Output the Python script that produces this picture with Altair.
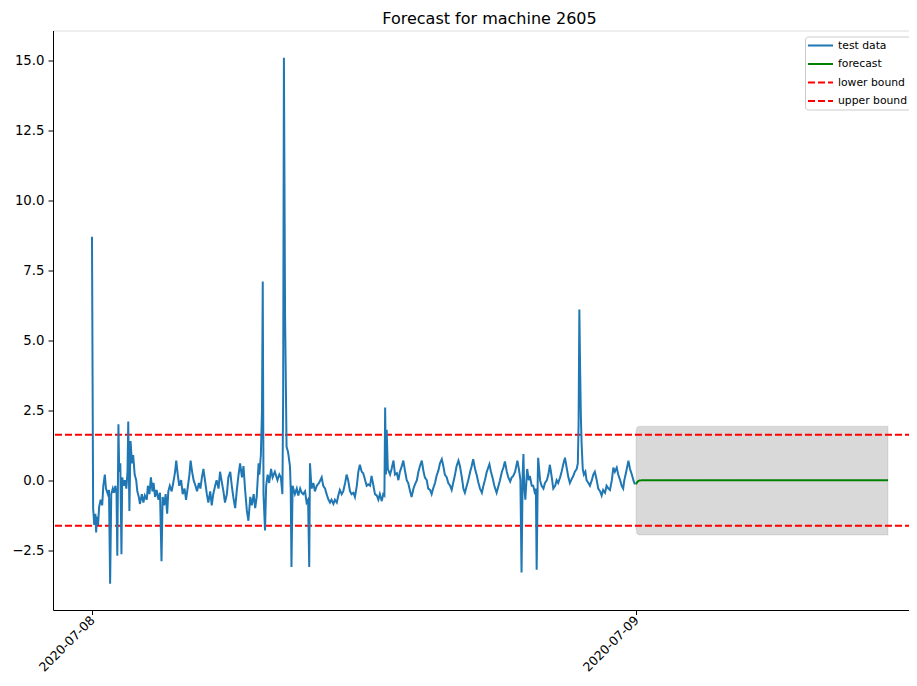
import altair as alt
import pandas as pd

TITLE = "Forecast for machine 2605"
START = "2020-07-08 00:00:00"

# test data: minutes after 2020-07-08 00:00, value
TEST_MINUTES = [
    0, 3, 6, 9, 11, 13, 16, 19, 23, 27, 30, 34, 37, 42, 45, 48, 51, 55, 58, 62,
    65, 67, 70, 72, 75, 78, 80, 84, 87, 91, 94, 96, 99, 102, 106, 109, 113, 117, 120, 124,
    127, 132, 136, 140, 145, 148, 152, 156, 160, 163, 167, 171, 176, 180, 184, 187, 191, 195, 199, 202,
    206, 211, 215, 220, 223, 227, 231, 236, 240, 245, 249, 253, 258, 261, 265, 269, 274, 278, 283, 287,
    291, 295, 299, 304, 308, 313, 317, 321, 326, 330, 335, 339, 344, 348, 352, 357, 361, 366, 370, 374,
    379, 383, 388, 392, 397, 401, 405, 410, 414, 419, 423, 428, 432, 436, 441, 443, 447, 450, 452, 454,
    458, 461, 465, 469, 474, 478, 484, 491, 496, 500, 504, 506, 508, 511, 515, 519, 524, 526, 528, 531,
    537, 542, 546, 551, 555, 559, 564, 568, 572, 575, 577, 581, 586, 590, 595, 601, 608, 612, 617, 621,
    626, 630, 634, 639, 643, 648, 652, 656, 661, 665, 670, 674, 678, 683, 687, 692, 696, 701, 705, 709,
    714, 718, 723, 727, 731, 736, 740, 745, 749, 754, 758, 762, 767, 771, 774, 776, 778, 780, 783, 789,
    793, 798, 802, 807, 811, 815, 820, 824, 829, 833, 837, 842, 846, 851, 855, 860, 864, 868, 873, 877,
    881, 886, 890, 895, 899, 903, 908, 912, 917, 921, 926, 930, 934, 939, 943, 948, 952, 956, 961, 965,
    970, 974, 979, 983, 987, 992, 996, 1001, 1005, 1009, 1014, 1018, 1023, 1027, 1032, 1036, 1040, 1045, 1052, 1056,
    1061, 1065, 1071, 1076, 1080, 1085, 1089, 1093, 1098, 1102, 1107, 1111, 1115, 1120, 1126, 1130, 1134, 1137, 1140, 1142,
    1144, 1147, 1150, 1152, 1156, 1159, 1164, 1168, 1173, 1175, 1177, 1180, 1181, 1186, 1190, 1195, 1199, 1204, 1208, 1212,
    1217, 1221, 1226, 1230, 1234, 1239, 1243, 1248, 1252, 1257, 1261, 1265, 1270, 1274, 1278, 1283, 1286, 1288, 1290, 1292,
    1294, 1296, 1299, 1302, 1306, 1309, 1314, 1318, 1323, 1327, 1331, 1336, 1340, 1345, 1349, 1353, 1358, 1362, 1367, 1371,
    1376, 1380, 1384, 1389, 1393, 1398, 1402, 1406, 1409, 1414, 1420, 1424, 1429, 1433, 1437,
]
TEST_VALUES = [
    8.7, -1.0, -1.6, -1.2, -1.87, -1.3, -1.6, -0.95, -0.7, -0.9, -0.2, 0.2, -0.3, -0.5, -0.35, -3.7, -0.5, -0.3, -0.45, -0.2,
    -0.5, -2.7, 2.0, 0.3, 0.6, -2.65, 0.1, -0.2, 0.0, -0.3, 0.3, 2.1, -1.1, 1.4, 0.6, 0.9, 0.2, 0.0, -0.4, -0.6,
    -0.85, -0.5, -0.8, -0.55, -0.7, -0.2, -0.5, 0.1, -0.4, -0.1, -0.6, -0.35, -0.7, -0.45, -2.9, -0.6, -0.9, -0.5, -1.2, -0.4,
    -0.2, -0.4, -0.1, 0.3, 0.7, 0.2, -0.2, 0.0, -0.5, -0.3, -0.7, -0.3, 0.2, 0.7, 0.3, 0.0, -0.2, -0.4, -0.1, -0.3,
    0.1, 0.4, 0.0, -0.5, -0.8, -0.4, -0.9, -0.5, -0.2, 0.0, -0.3, 0.3, -0.1, -0.4, -0.8, -0.5, 0.1, 0.3, -0.2, -0.6,
    -1.0, -0.4, 0.2, 0.6, 0.1, 0.5, -0.3, -1.1, -1.45, -0.6, -0.9, -0.5, -1.0, -0.6, 0.6, 0.2, 0.9, 2.5, 7.1, -0.5,
    -1.8, -0.2, 0.2, -0.1, 0.4, 0.1, 0.3, 0.0, 0.2, 0.1, -0.5, 3.0, 15.1, 6.0, 1.2, 1.0, 0.5, -0.3, -3.1, -0.2,
    -0.5, -0.3, -0.55, -0.3, -0.45, -0.5, -0.4, -0.8, -0.7, -3.1, 0.6, -0.3, -0.1, -0.4, -0.2, -0.1, 0.1, -0.2, -0.3, -0.5,
    -0.7, -0.8, -0.7, -0.85, -0.7, -0.8, -0.55, -0.35, -0.5, -0.4, -0.1, 0.2, 0.0, -0.4, -0.5, -0.45, -0.6, -0.2, 0.3, 0.55,
    0.3, 0.25, 0.0, -0.2, -0.15, -0.2, 0.15, -0.2, -0.5, -0.55, -0.7, -0.5, -0.75, -0.5, -0.55, 2.6, 0.2, 1.8, 0.4, 0.2,
    0.4, 0.7, 0.2, 0.25, 0.0, 0.3, 0.5, 0.7, 0.3, 0.0, -0.1, -0.4, -0.6, -0.3, -0.15, 0.0, 0.3, 0.5, 0.7, 0.35,
    0.1, 0.0, -0.3, -0.35, -0.5, -0.3, -0.1, 0.15, 0.35, 0.6, 0.75, 0.5, 0.2, 0.1, -0.1, -0.2, -0.35, -0.1, 0.2, 0.5,
    0.7, 0.5, 0.1, -0.3, -0.45, -0.2, 0.0, 0.3, 0.5, 0.75, 0.4, 0.2, -0.1, -0.3, -0.45, -0.2, 0.0, 0.3, 0.57, 0.3,
    0.05, -0.2, -0.45, -0.2, 0.0, 0.3, 0.45, 0.67, 0.3, 0.1, -0.05, 0.1, 0.15, 0.3, 0.7, 0.4, 0.0, -3.3, 0.2, 0.93,
    -0.2, -0.7, 0.0, 0.4, 0.0, 0.15, -0.2, -0.2, -0.5, -0.3, -3.2, 0.2, 0.8, 0.0, -0.2, -0.3, -0.1, 0.0, 0.2, 0.55,
    0.1, -0.3, -0.2, 0.0, -0.1, 0.1, 0.3, 0.6, 0.8, 0.4, 0.1, -0.1, 0.05, 0.15, 0.3, 0.4, 0.6, 2.0, 6.1, 4.0,
    2.3, 1.3, 0.4, 0.2, 0.3, 0.0, -0.1, -0.2, 0.0, 0.2, 0.3, 0.0, -0.3, -0.4, -0.55, -0.35, -0.45, -0.2, -0.3, -0.35,
    0.0, 0.45, 0.3, 0.45, 0.2, 0.0, -0.2, -0.3, 0.0, 0.3, 0.7, 0.4, 0.2, 0.0, -0.15,
]

# forecast with confidence band
FC_MINUTES = [1440, 1442, 1445, 1449, 1455, 1465, 1480, 1540, 1660, 1780, 1900, 2020, 2107]
FC_VALUES = [-0.15, -0.09, -0.04, -0.015, -0.005, 0.0, 0.0, 0.0, 0.0, 0.0, 0.0, 0.0, 0.0]
FC_LOWER = [-1.75, -1.9, -1.94, -1.96, -1.96, -1.96, -1.96, -1.96, -1.96, -1.96, -1.96, -1.96, -1.96]
FC_UPPER = [1.72, 1.87, 1.91, 1.93, 1.93, 1.93, 1.93, 1.93, 1.93, 1.93, 1.93, 1.93, 1.93]

BOUND_NAMES = ["lower bound", "upper bound"]
BOUND_VALUES = [-1.63, 1.62]

SERIES = ["test data", "forecast", "lower bound", "upper bound"]
COLORS = ["#1f77b4", "#008000", "#ff0000", "#ff0000"]
DASHES = [[1, 0], [1, 0], [7, 3], [7, 3]]

Y_TICKS = [-2.5, 0.0, 2.5, 5.0, 7.5, 10.0, 12.5, 15.0]

base = pd.Timestamp(START)


def to_time(minutes):
    return [(base + pd.Timedelta(minutes=m)).strftime("%Y-%m-%dT%H:%M:%S") for m in minutes]


test_df = pd.DataFrame({"t": to_time(TEST_MINUTES), "v": TEST_VALUES, "series": "test data"})
fc_df = pd.DataFrame({"t": to_time(FC_MINUTES), "v": FC_VALUES, "lower": FC_LOWER,
                      "upper": FC_UPPER, "series": "forecast"})
bound_df = pd.DataFrame({"series": BOUND_NAMES, "v": BOUND_VALUES})

FONT = "DejaVu Sans"

x_scale = alt.Scale(domain=[
    alt.DateTime(year=2020, month=7, date=7, hours=22, minutes=16, seconds=48),
    alt.DateTime(year=2020, month=7, date=9, hours=12, minutes=10, seconds=30),
])
y_scale = alt.Scale(domain=[-4.64, 16.07], nice=False, zero=False)
color_scale = alt.Scale(domain=SERIES, range=COLORS)
dash_scale = alt.Scale(domain=SERIES, range=DASHES)

legend = alt.Legend(
    title=None, orient="none", legendX=752, legendY=6,
    symbolType="M-2.5,0H2.5", symbolSize=100, symbolStrokeWidth=2,
    symbolOffset=6.5, labelOffset=11.5,
    labelFontSize=10.8, labelFont=FONT, labelColor="black",
    fillColor="white", strokeColor="#cccccc", cornerRadius=3,
    padding=3, rowPadding=7.5,
)

x_axis = alt.Axis(
    orient="bottom", values=[alt.DateTime(year=2020, month=7, date=8),
                             alt.DateTime(year=2020, month=7, date=9)],
    format="%Y-%m-%d", labelAngle=-45, labelAlign="right", labelBaseline="top",
    labelOffset=-4, labelPadding=-1, tickSize=4.5, tickColor="black", tickWidth=1,
    domainColor="black", domainWidth=1, labelFontSize=12.5, labelFont=FONT,
    labelColor="black", title=None, grid=False, labelOverlap=False, labelFlush=False,
)
y_axis = alt.Axis(
    values=Y_TICKS, format=".1f", tickSize=5, tickColor="black", tickWidth=1,
    domainColor="black", domainWidth=1, labelFontSize=13.3, labelFont=FONT,
    labelColor="black", labelPadding=4, title=None, grid=False, labelFlush=False,
)

band = alt.Chart(fc_df).mark_area(
    fill="black", fillOpacity=0.15, stroke="black", strokeOpacity=0.06, strokeWidth=1.5
).encode(
    x=alt.X("t:T", scale=x_scale, axis=x_axis),
    y=alt.Y("lower:Q", scale=y_scale, axis=y_axis),
    y2="upper:Q",
)

bounds = alt.Chart(bound_df).mark_rule(strokeWidth=2).encode(
    y=alt.Y("v:Q", scale=y_scale, axis=y_axis),
    color=alt.Color("series:N", scale=color_scale, legend=legend),
    strokeDash=alt.StrokeDash("series:N", scale=dash_scale, legend=legend),
)

test_line = alt.Chart(test_df).mark_line(strokeWidth=2).encode(
    x=alt.X("t:T", scale=x_scale, axis=x_axis),
    y=alt.Y("v:Q", scale=y_scale, axis=y_axis),
    color=alt.Color("series:N", scale=color_scale, legend=legend),
    strokeDash=alt.StrokeDash("series:N", scale=dash_scale, legend=legend),
)

fc_line = alt.Chart(fc_df).mark_line(strokeWidth=2).encode(
    x=alt.X("t:T", scale=x_scale, axis=x_axis),
    y=alt.Y("v:Q", scale=y_scale, axis=y_axis),
    color=alt.Color("series:N", scale=color_scale, legend=legend),
    strokeDash=alt.StrokeDash("series:N", scale=dash_scale, legend=legend),
)

chart = alt.layer(band, bounds, test_line, fc_line).properties(
    width=859, height=579.5,
    autosize=alt.AutoSizeParams(type="none"),
    padding={"left": 45, "top": 22.5, "right": -3, "bottom": 68},
    title=alt.Title(TITLE, fontSize=16, font=FONT, fontWeight="normal", color="black",
                    anchor="middle", frame="group", dx=7, dy=16, offset=7,
                    baseline="alphabetic"),
).configure_view(stroke="black", strokeWidth=1).configure(font=FONT, background="white")

chart.save("out.html", embed_options={"renderer": "svg", "actions": False})
